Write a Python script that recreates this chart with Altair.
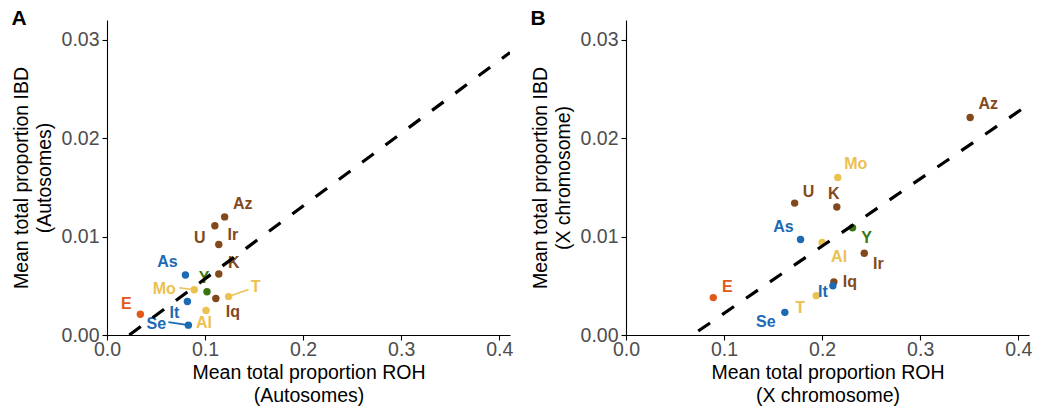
import altair as alt
import pandas as pd

# Population codes and their regional group
pops = ["Az", "U", "Ir", "K", "Iq", "As", "It", "Se", "Mo", "T", "Al", "E", "Y"]
groups = ["Caucasus/Middle East"] * 5 + ["Europe"] * 3 + ["North Africa"] * 3 + ["Ethiopia", "Yemen"]
group_names = ["Caucasus/Middle East", "Europe", "North Africa", "Ethiopia", "Yemen"]
group_colors = ["#83491C", "#1B6AB3", "#EBC150", "#E1581A", "#3B7412"]

# Autosomes: mean total proportion ROH / IBD
roh_auto = [0.120, 0.110, 0.114, 0.114, 0.111, 0.080, 0.082, 0.083, 0.089, 0.124, 0.101, 0.034, 0.102]
ibd_auto = [0.0120, 0.0111, 0.0092, 0.0062, 0.0037, 0.0061, 0.0034, 0.0010, 0.0046, 0.0039, 0.0025, 0.0021, 0.0044]

# X chromosome: mean total proportion ROH / IBD
roh_x = [0.351, 0.172, 0.243, 0.215, 0.212, 0.178, 0.211, 0.162, 0.216, 0.194, 0.200, 0.089, 0.231]
ibd_x = [0.0221, 0.0134, 0.0083, 0.0130, 0.0054, 0.0097, 0.0050, 0.0023, 0.0160, 0.0040, 0.0094, 0.0038, 0.0109]

# Fitted dashed lines (slope, intercept)
fit_auto = (0.0739, -0.00168)
fit_x = (0.0683, -0.00463)

# Label placement, pixel offsets from each point
lab_dx_auto = [18, -15, 14, 15, 17, -18, -13, -32, -30, 27, -2, -14, -3]
lab_dy_auto = [-13, 12, -9, -11, 13, -13, 11, -1, -1, -10, 13, -10, -14]
lab_dx_x = [18, 14, 14, -3, 16, -17, -10, -19, 18, -16, 17, 14, 14]
lab_dy_x = [-13, -11, 11, -13, 0, -13, 6, 10, -14, 12, 15, -11, 10]

# Connector segments (pixel offsets of the label end) for crowded labels
seg_auto = {"Mo": (-15, -2), "T": (20, -7), "Se": (-20, -3)}
seg_x = {}

XMAX, YMAX = 0.411, 0.032
W, H = 403, 315
KX, KY = XMAX / W, YMAX / H
FONT = "Liberation Sans"


def panel(letter, roh, ibd, fit, dash_offset, ldx, ldy, segs, xtitle, ytitle):
    df = pd.DataFrame({"pop": pops, "group": groups, "roh": roh, "ibd": ibd})
    df["lx"] = [x + d * KX for x, d in zip(roh, ldx)]
    df["ly"] = [y - d * KY for y, d in zip(ibd, ldy)]

    seg_rows = []
    for p, (sx, sy) in segs.items():
        i = pops.index(p)
        seg_rows.append({"group": groups[i], "roh": roh[i], "ibd": ibd[i],
                         "sx": roh[i] + sx * KX, "sy": ibd[i] - sy * KY})
    seg_df = pd.DataFrame(seg_rows, columns=["group", "roh", "ibd", "sx", "sy"])

    slope, icpt = fit
    x0 = max(0.0, -icpt / slope)
    line_df = pd.DataFrame({"roh": [x0, XMAX], "ibd": [slope * x0 + icpt, slope * XMAX + icpt]})

    xs = alt.Scale(domain=[0, XMAX], nice=False, zero=False)
    ys = alt.Scale(domain=[0, YMAX], nice=False, zero=False)
    color = alt.Color("group:N", scale=alt.Scale(domain=group_names, range=group_colors), legend=None)

    xax = alt.Axis(values=[0, 0.1, 0.2, 0.3, 0.4], format=".1f", title=xtitle)
    yax = alt.Axis(values=[0, 0.01, 0.02, 0.03], format=".2f", title=ytitle)

    pts = alt.Chart(df).mark_circle(size=55, opacity=1).encode(
        x=alt.X("roh:Q", scale=xs, axis=xax),
        y=alt.Y("ibd:Q", scale=ys, axis=yax),
        color=color,
    )
    segl = alt.Chart(seg_df).mark_rule(strokeWidth=1.6).encode(
        x="roh:Q", y="ibd:Q", x2="sx:Q", y2="sy:Q", color=color,
    )
    labels = alt.Chart(df).mark_text(fontSize=16, fontWeight="bold", font=FONT).encode(
        x="lx:Q", y="ly:Q", text="pop:N", color=color,
    )
    fitl = alt.Chart(line_df).mark_line(
        color="black", strokeWidth=3.2, strokeDash=[14.3, 14.7], strokeDashOffset=dash_offset, clip=True
    ).encode(x="roh:Q", y="ibd:Q")
    return alt.layer(pts, segl, labels, fitl).properties(
        width=W, height=H,
        title=alt.TitleParams(letter, anchor="start", frame="bounds", offset=-9,
                              fontSize=21, fontWeight="bold", font=FONT, color="black"),
    )


a = panel("A", roh_auto, ibd_auto, fit_auto, 0, lab_dx_auto, lab_dy_auto, seg_auto,
          ["Mean total proportion ROH", "(Autosomes)"], ["Mean total proportion IBD", "(Autosomes)"])
b = panel("B", roh_x, ibd_x, fit_x, 22, lab_dx_x, lab_dy_x, seg_x,
          ["Mean total proportion ROH", "(X chromosome)"], ["Mean total proportion IBD", "(X chromosome)"])

chart = alt.hconcat(a, b, spacing=17).properties(
    padding={"left": 11, "top": 8, "right": 5, "bottom": 5}
).configure_view(stroke=None).configure_axis(
    domainColor="black", domainWidth=1.1, tickColor="black", tickWidth=1.1, tickSize=5,
    grid=False, labelFont=FONT, labelFontSize=19.5, labelColor="#4D4D4D", labelFlush=False,
    titleFont=FONT, titleFontSize=19.5, titleFontWeight="normal", titleColor="black",
    titleLineHeight=22.5,
).configure_axisX(labelPadding=0, titlePadding=5).configure_axisY(labelPadding=3, titlePadding=7)

chart.save("out.html", embed_options={"renderer": "svg", "actions": False})
